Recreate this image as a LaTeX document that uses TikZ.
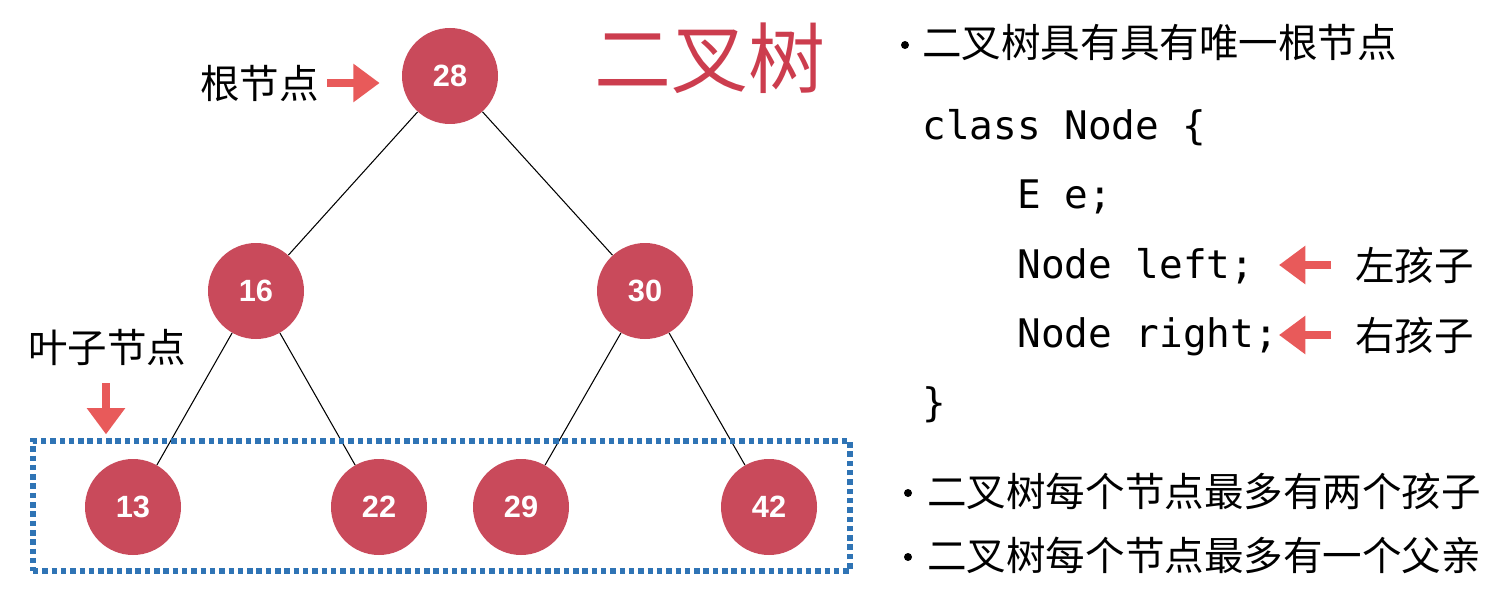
\documentclass[tikz,border=0pt]{standalone}
\usepackage{fontspec}
\setmainfont{Liberation Sans}
\newfontfamily\cjk{Noto Sans CJK SC}
\newfontfamily\codefont{DejaVu Sans Mono}
\usetikzlibrary{arrows.meta, positioning}
\definecolor{nodered}{HTML}{C94A5B}
\definecolor{titlered}{HTML}{CC3D4E}
\definecolor{arrowred}{HTML}{E85A5A}
\definecolor{boxblue}{HTML}{2F74B5}
\tikzset{
  tree node/.style={
    circle, fill=nodered, draw=none, minimum size=96*0.02cm, inner sep=0pt,
    text=white, font=\fontsize{17.5}{20}\selectfont\bfseries
  },
  tree edge/.style={line width=0.6pt, black},
  hint arrow/.style={
    arrowred, line width=4.5pt,
    -{Triangle[length=15pt, width=21pt]}  % fat red arrow
  },
  cjk text/.style={inner sep=0pt, font=\cjk\fontsize{22.5}{26}\selectfont},
  code text/.style={inner sep=0pt, anchor=base west, font=\codefont\fontsize{22.4}{26}\selectfont},
  bullet dot/.style={circle, fill=black, inner sep=0pt, minimum size=8*0.02cm}
}

\begin{document}
\begin{tikzpicture}[x=0.02cm, y=-0.02cm]
    \useasboundingbox (0,0) rectangle (1503,601);

    % Tree nodes
    \node[tree node] (n28) at (450,76) {28};
    \node[tree node] (n16) at (256,291) {16};
    \node[tree node] (n30) at (645,291) {30};
    \node[tree node] (n13) at (133,507) {13};
    \node[tree node] (n22) at (379,507) {22};
    \node[tree node] (n29) at (521,507) {29};
    \node[tree node] (n42) at (769,507) {42};

    % Edges
    \draw[tree edge] (n28) -- (n16);
    \draw[tree edge] (n28) -- (n30);
    \draw[tree edge] (n16) -- (n13);
    \draw[tree edge] (n16) -- (n22);
    \draw[tree edge] (n30) -- (n29);
    \draw[tree edge] (n30) -- (n42);

    % Leaf box (dotted)
    \node[draw=boxblue, line width=3pt, dash pattern=on 3.1pt off 2.2pt,
          minimum width=817*0.02cm, minimum height=130*0.02cm, inner sep=0pt]
          (leafbox) at (441.5,506) {};

    % Title
    \node[cjk text, text=titlered, font=\cjk\fontsize{43.8}{50}\selectfont] (title) at (710,58) {二叉树};

    % Labels with arrows
    \node[cjk text, anchor=west] (rootlabel) at (200,83) {根节点};
    \coordinate (rootstart) at (327,83);
    \draw[hint arrow] (rootstart) -- (rootstart -| n28.west) [shorten >=22*0.02cm];
    \node[cjk text, anchor=west] (leaflabel) at (28,347) {叶子节点};
    \coordinate (leafstart) at (106,383);
    \draw[hint arrow] (leafstart) -- (leafstart |- leafbox.north) [shorten >=4*0.02cm];

    % Right side bullets
    \node[bullet dot] (b1) at (905,45) {};
    \node[cjk text, anchor=west] (fact1) at (922,43) {二叉树具有具有唯一根节点};

    % Code lines
    \node[code text] (line1) at (922,140) {class Node \{};
    \node[code text] (line2) at (1017,209) {E e;};
    \node[code text] (line3) at (1017,278) {Node left;};
    \node[code text] (line4) at (1017,347) {Node right;};
    \node[code text] (line5) at (922,416) {\}};

    % Child hints
    \node[cjk text, anchor=west] (lefthint) at (1355,265) {左孩子};
    \node[cjk text, anchor=west] (righthint) at (1355,335) {右孩子};
    \coordinate (lstart) at (1331,265);
    \coordinate (rstart) at (1331,335);
    \draw[hint arrow] (lstart) -- ++(-52,0);
    \draw[hint arrow] (rstart) -- ++(-52,0);

    \node[bullet dot] (b2) at (908,493) {};
    \node[cjk text, anchor=west] (fact2) at (927,491) {二叉树每个节点最多有两个孩子};
    \node[bullet dot] (b3) at (908,557) {};
    \node[cjk text, anchor=west] (fact3) at (927,555) {二叉树每个节点最多有一个父亲};
\end{tikzpicture}
\end{document}
